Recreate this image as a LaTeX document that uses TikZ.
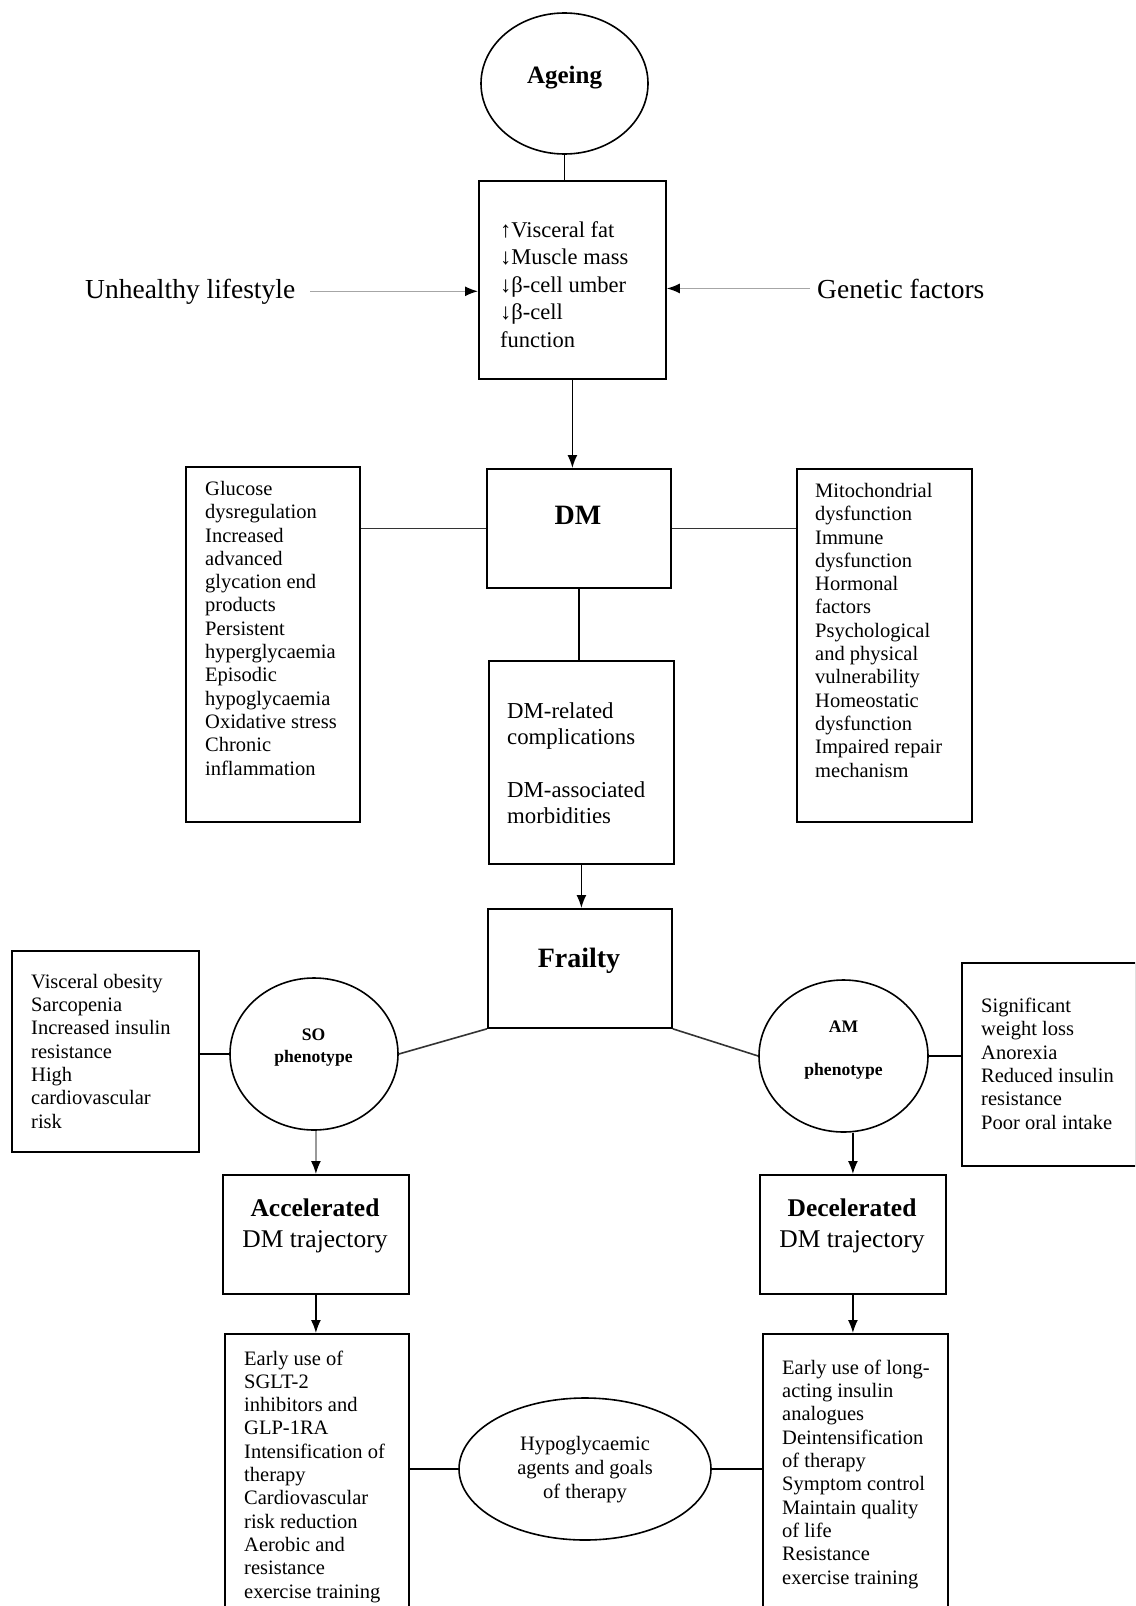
\documentclass[tikz,border=0pt]{standalone}
\usepackage{fontspec}
\setmainfont{Liberation Serif}
\usetikzlibrary{arrows.meta,shapes.geometric}
\begin{document}
\begin{tikzpicture}[x=1pt,y=-1pt,
  box/.style={draw, line width=1.8pt, rectangle, inner sep=0pt, anchor=north west},
  ell/.style={draw, line width=1.6pt, ellipse, inner sep=0pt},
  conn/.style={line width=1.6pt},
  arr/.style={line width=1.5pt, -{Latex[length=13pt,width=10pt,color=black]}},
  small/.style={font=\fontsize{20.5}{23.3}\selectfont, align=left, anchor=base west, inner sep=0pt},
  big/.style={font=\fontsize{27.5}{31}\selectfont, anchor=base west, inner sep=0pt},
  title/.style={font=\bfseries\fontsize{28}{32}\selectfont, anchor=base, inner sep=0pt},
  pheno/.style={font=\bfseries\fontsize{17.6}{22}\selectfont, align=center, anchor=base, inner sep=0pt},
  traj/.style={font=\fontsize{25.5}{31}\selectfont, align=center, anchor=base, inner sep=0pt}
]
\useasboundingbox (0,0) rectangle (1135,1606);
\clip (0,0) rectangle (1135,1606);

% Ageing
\node[ell, minimum width=167pt, minimum height=141pt] (ageing) at (564.5,83.5) {};
\node[font=\bfseries\fontsize{25}{30}\selectfont, anchor=base, inner sep=0pt] (ageingt) at (564.5,83) {Ageing};

% Box 1
\node[box, minimum width=187pt, minimum height=198pt] (b1) at (478,180) {};
\node[font=\fontsize{22.5}{27.5}\selectfont, align=left, anchor=base west, inner sep=0pt] (b1t) at (500,347)
  {↑Visceral fat\\↓Muscle mass\\↓β-cell umber\\↓β-cell\\function};
\draw[conn] (ageing.south) -- (ageing.south |- b1.north);

\node[big] (life) at (85,298) {Unhealthy lifestyle};
\node[big] (gen) at (817,298) {Genetic factors};
\draw[arr, gray!70] ([xshift=15pt]life.east) -- (life.east -| b1.west);
\draw[arr, gray!70] ([xshift=-7pt]gen.west) -- (gen.west -| b1.east);

% DM
\node[box, minimum width=184pt, minimum height=119pt] (dm) at (486,468) {};
\node[title] (dmt) at (578,524) {DM};
\draw[arr] (b1.south) -- (b1.south |- dm.north);

\node[box, minimum width=174pt, minimum height=355pt] (lbox) at (185,466) {};
\node[small] (lboxt) at (205,775) {Glucose\\dysregulation\\Increased\\advanced\\glycation end\\products\\Persistent\\hyperglycaemia\\Episodic\\hypoglycaemia\\Oxidative stress\\Chronic\\inflammation};
\node[box, minimum width=175pt, minimum height=353pt] (rbox) at (796,468) {};
\node[small] (rboxt) at (815,777) {Mitochondrial\\dysfunction\\Immune\\dysfunction\\Hormonal\\factors\\Psychological\\and physical\\vulnerability\\Homeostatic\\dysfunction\\Impaired repair\\mechanism};
\draw[conn, black!80] (dm.west) -- (dm.west -| lbox.east);
\draw[conn, black!80] (dm.east) -- (dm.east -| rbox.west);

% Complications
\node[box, minimum width=185pt, minimum height=203pt] (comp) at (488,660) {};
\node[font=\fontsize{22.8}{26}\selectfont, align=left, anchor=base west, inner sep=0pt] (compt) at (507,823)
  {DM-related\\complications\\[27pt]DM-associated\\morbidities};
\draw[conn] (dm.south) -- (dm.south |- comp.north);

% Frailty
\node[box, minimum width=184pt, minimum height=119pt] (frailty) at (487,908) {};
\node[title] (frailtyt) at (579,967) {Frailty};
\draw[arr] (comp.south) -- (comp.south |- frailty.north);

% SO
\node[ell, minimum width=168pt, minimum height=152pt] (so) at (314,1054) {};
\node[pheno] (sot) at (313.5,1062) {SO\\phenotype};
\node[box, minimum width=187pt, minimum height=201pt] (sobox) at (11,950) {};
\node[small] (soboxt) at (31,1128) {Visceral obesity\\Sarcopenia\\Increased insulin\\resistance\\High\\cardiovascular\\risk};
\draw[conn] (so.west) -- (so.west -| sobox.east);
\draw[conn, black!80] (frailty.south west) -- (so.east);

% AM
\node[ell, minimum width=169pt, minimum height=152pt] (am) at (843.5,1056) {};
\node[pheno] (amt) at (843.5,1075) {AM\\[21pt]phenotype};
\node[box, minimum width=174pt, minimum height=203pt] (ambox) at (961,962) {};
\node[small] (amboxt) at (981,1129) {Significant\\weight loss\\Anorexia\\Reduced insulin\\resistance\\Poor oral intake};
\draw[conn] (am.east) -- (am.east -| ambox.west);
\draw[conn, black!80] (frailty.south east) -- (am.west);

% Trajectories
\node[box, minimum width=186pt, minimum height=119pt] (acc) at (222,1174) {};
\node[traj] (acct) at (315,1247) {\textbf{Accelerated}\\DM trajectory};
\node[box, minimum width=186pt, minimum height=119pt] (dec) at (759,1174) {};
\node[traj] (dect) at (852,1247) {\textbf{Decelerated}\\DM trajectory};
\draw[arr, gray!80] (acc.north |- so.south) -- (acc.north);
\draw[arr] (dec.north |- am.south) -- (dec.north);

% Bottom boxes
\node[box, minimum width=184pt, minimum height=300pt] (blbox) at (224,1333) {};
\node[small] (blboxt) at (244,1598) {Early use of\\SGLT-2\\inhibitors and\\GLP-1RA\\Intensification of\\therapy\\Cardiovascular\\risk reduction\\Aerobic and\\resistance\\exercise training};
\node[box, minimum width=185pt, minimum height=300pt] (brbox) at (762,1333) {};
\node[small] (brboxt) at (782,1584) {Early use of long-\\acting insulin\\analogues\\Deintensification\\of therapy\\Symptom control\\Maintain quality\\of life\\Resistance\\exercise training};
\draw[arr] (acc.south) -- (acc.south |- blbox.north);
\draw[arr] (dec.south) -- (dec.south |- brbox.north);

% Hypoglycaemic
\node[ell, minimum width=252pt, minimum height=142pt] (hypo) at (585,1469) {};
\node[font=\fontsize{20.5}{24}\selectfont, align=center, anchor=base, inner sep=0pt] (hypot) at (585,1498.5)
  {Hypoglycaemic\\agents and goals\\of therapy};
\draw[conn] (hypo.west) -- (hypo.west -| blbox.east);
\draw[conn] (hypo.east) -- (hypo.east -| brbox.west);
\end{tikzpicture}
\end{document}
